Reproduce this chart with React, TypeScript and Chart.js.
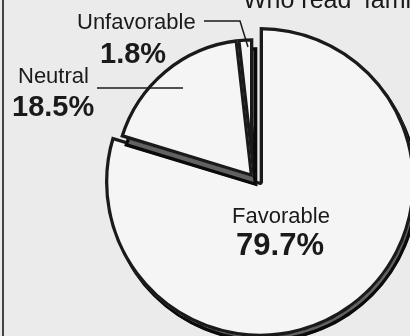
import React, { useEffect, useRef } from "react";
import { Chart, registerables } from "chart.js";

Chart.register(...registerables);

const categories = ["Favorable", "Neutral", "Unfavorable"];
const shares = [79.7, 18.5, 1.8];
const shareLabels = ["79.7%", "18.5%", "1.8%"];
const titleText = "Who read \u2018familiar";

const W = 410;
const H = 336;

const explodePlugin = {
  id: "explodeGroup",
  afterDatasetsUpdate(chart: any) {
    const meta = chart.getDatasetMeta(0);
    const base = meta.data[0];
    if (!base) return;
    const r = base.outerRadius;
    for (let i = 1; i < meta.data.length; i++) {
      const a = meta.data[i];
      a.x = base.x - 7;
      a.y = base.y - 5;
      a.outerRadius = r * 0.895;
    }
  },
};

const shadowPlugin = {
  id: "pieShadow",
  beforeDatasetsDraw(chart: any) {
    const ctx = chart.ctx;
    const meta = chart.getDatasetMeta(0);
    const els = meta.data;
    const shade = (list: any[], dx: number, dy: number) => {
      ctx.save();
      ctx.translate(dx, dy);
      ctx.filter = "brightness(0.4)";
      list.forEach((a: any) => a.draw(ctx));
      ctx.restore();
    };
    shade([els[0]], 3, 5);
    els[0].draw(ctx);
    shade(els.slice(1), 4, 9);
    els.slice(1).forEach((a: any) => a.draw(ctx));
    return false;
  },
};

const textPlugin = {
  id: "pieText",
  beforeDraw(chart: any) {
    const ctx = chart.ctx;
    ctx.save();
    ctx.fillStyle = "#ebebeb";
    ctx.fillRect(0, 0, W, H);
    ctx.fillStyle = "#444";
    ctx.fillRect(2, 0, 2, H);
    ctx.restore();
  },
  afterDraw(chart: any) {
    const ctx = chart.ctx;
    ctx.save();
    ctx.fillStyle = "#1a1a1a";
    ctx.strokeStyle = "#1a1a1a";
    ctx.textBaseline = "alphabetic";
    const reg = (s: number) => `${s}px "Liberation Sans", Arial, sans-serif`;
    const bold = (s: number) => `bold ${s}px "Liberation Sans", Arial, sans-serif`;

    ctx.textAlign = "left";
    ctx.font = reg(25);
    ctx.fillText(titleText, 243, 8);

    ctx.font = reg(22);
    ctx.fillText(categories[2], 77, 29);
    ctx.font = bold(29);
    ctx.fillText(shareLabels[2], 100, 63);

    ctx.font = reg(22);
    ctx.fillText(categories[1], 18, 83);
    ctx.font = bold(29);
    ctx.fillText(shareLabels[1], 12, 116);

    ctx.textAlign = "center";
    ctx.font = reg(22);
    ctx.fillText(categories[0], 281, 223);
    ctx.font = bold(31);
    ctx.fillText(shareLabels[0], 280, 255);

    ctx.lineWidth = 1.5;
    ctx.beginPath();
    ctx.moveTo(204, 21);
    ctx.lineTo(240, 21);
    ctx.lineTo(248, 47);
    ctx.stroke();
    ctx.beginPath();
    ctx.moveTo(97, 88);
    ctx.lineTo(183, 88);
    ctx.stroke();
    ctx.restore();
  },
};

export default function App() {
  const ref = useRef<HTMLCanvasElement>(null);
  useEffect(() => {
    const chart = new Chart(ref.current as HTMLCanvasElement, {
      type: "pie",
      data: {
        labels: categories,
        datasets: [
          {
            data: shares,
            backgroundColor: "#f5f5f5",
            borderColor: "#1a1a1a",
            borderWidth: 3,
            borderAlign: "inner",
          },
        ],
      },
      options: {
        responsive: false,
        animation: false,
        radius: 155,
        layout: { padding: { left: 110, right: 0, top: 28, bottom: 0 } },
        plugins: { legend: { display: false }, tooltip: { enabled: false } },
      } as any,
      plugins: [textPlugin, explodePlugin, shadowPlugin],
    });
    return () => chart.destroy();
  }, []);
  return (
    <div style={{ position: "fixed", left: 0, top: 0, width: W, height: H }}>
      <canvas ref={ref} width={W} height={H} style={{ display: "block" }} />
    </div>
  );
}
